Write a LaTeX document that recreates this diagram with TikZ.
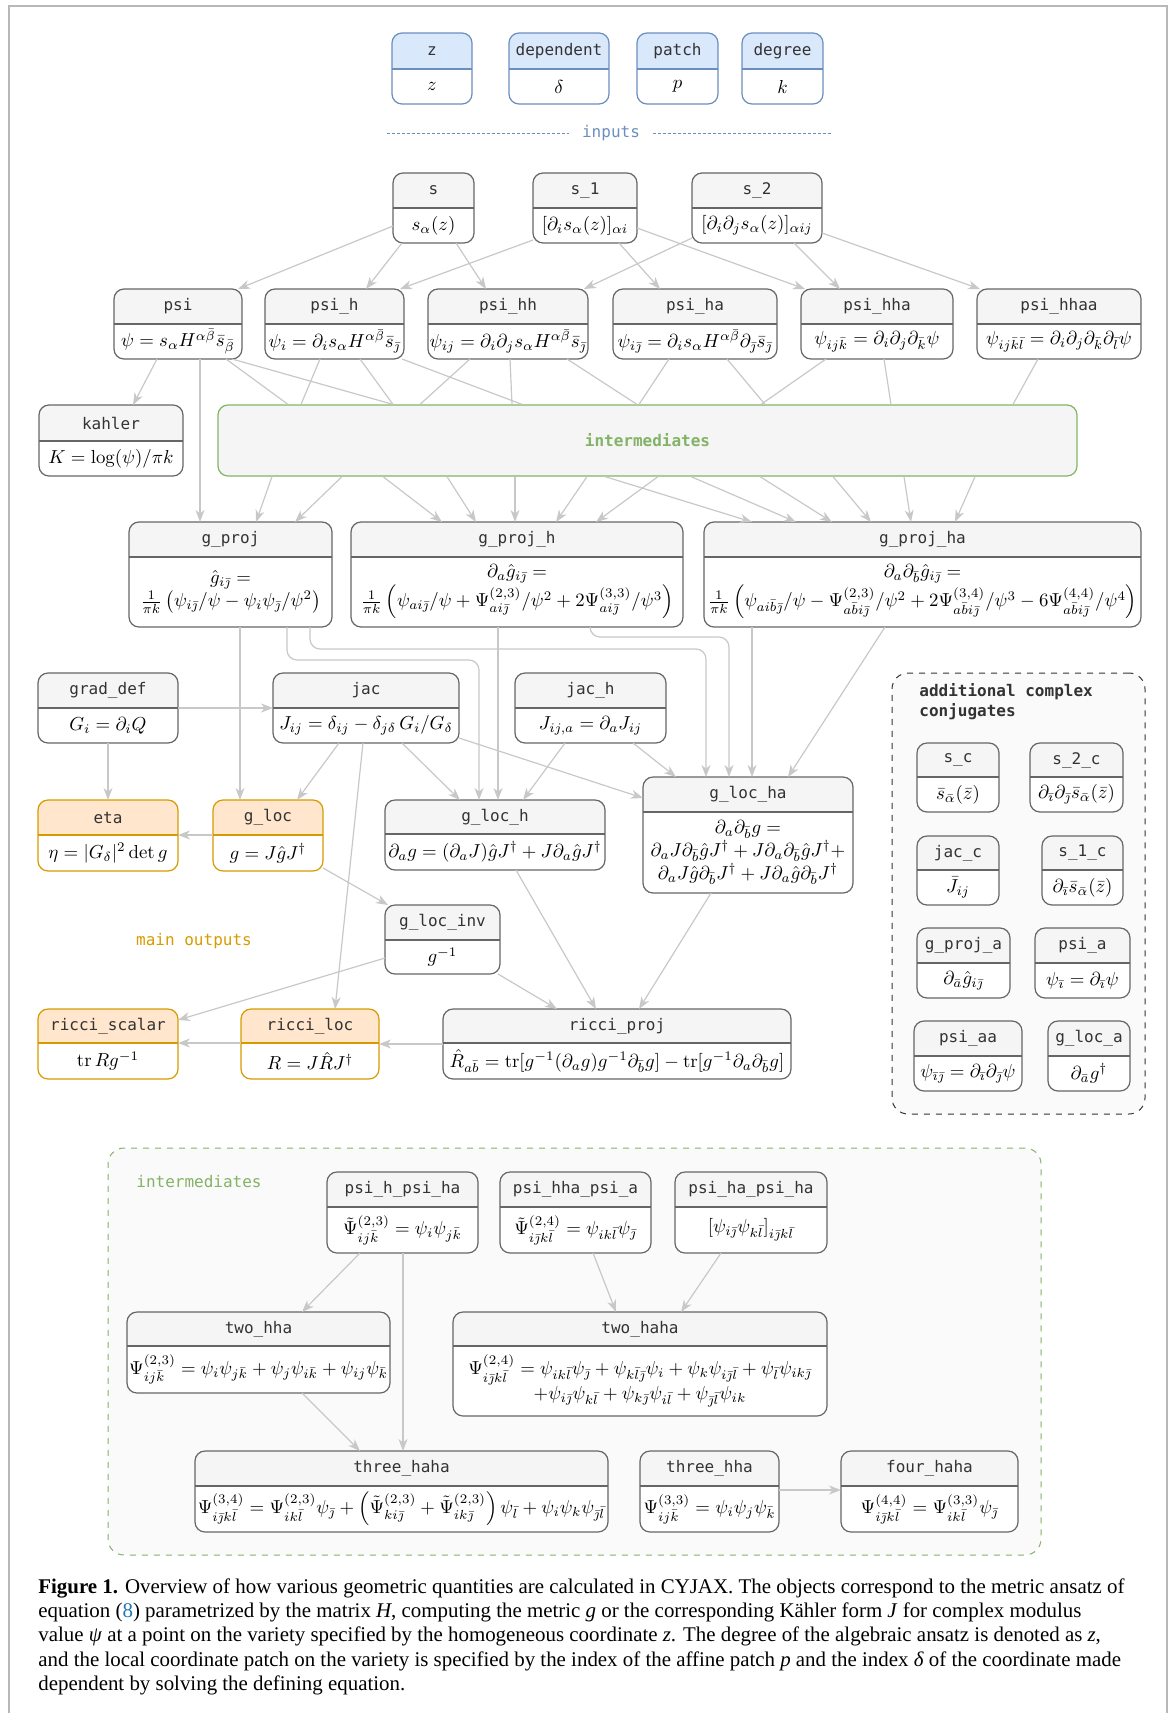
\documentclass[tikz,border=0pt]{standalone}
\usepackage{amsmath}
\usepackage{fontspec}
\newfontfamily\monofont{DejaVu Sans Mono}
\newfontfamily\capfont{Liberation Serif}
\usetikzlibrary{arrows.meta}

\definecolor{hdgray}{HTML}{F5F5F5}
\definecolor{frgray}{HTML}{666666}
\definecolor{hdblue}{HTML}{DAE8FC}
\definecolor{frblue}{HTML}{6C8EBF}
\definecolor{hdorange}{HTML}{FFE6CC}
\definecolor{frorange}{HTML}{D79B00}
\definecolor{lnk}{HTML}{C8C8C8}
\definecolor{grn}{HTML}{82B366}
\definecolor{txt}{HTML}{333333}
\definecolor{pagegray}{HTML}{B8B8B8}
\definecolor{capblue}{HTML}{1F77B4}

\tikzset{
  conn/.style={draw=lnk, line width=0.6pt, -{Stealth[length=6pt,width=4.5pt,inset=1.8pt]}},
  link/.style={draw=lnk, line width=0.6pt},
  boxtitle/.style={font=\monofont\fontsize{8}{10}\selectfont, text=txt, inner sep=0pt},
  boxbody/.style={font=\fontsize{10}{12.2}\selectfont, inner sep=0pt, align=center, scale=0.94, transform shape},
  gray head/.style={fill=hdgray},
  gray frame/.style={draw=frgray, line width=0.6pt},
  gray sep/.style={draw=frgray, line width=1.1pt},
  blue head/.style={fill=hdblue},
  blue frame/.style={draw=frblue, line width=0.6pt},
  blue sep/.style={draw=frblue, line width=1.1pt},
  orange head/.style={fill=hdorange},
  orange frame/.style={draw=frorange, line width=0.6pt},
  orange sep/.style={draw=frorange, line width=1.1pt},
  intbig/.style={draw=grn, fill=hdgray, line width=0.6pt, rounded corners=5pt,
    font=\monofont\bfseries\fontsize{8}{10}\selectfont, text=grn},
  intbox/.style={draw=grn, fill=white!98!black, dashed, line width=0.5pt, rounded corners=8pt},
  ccbox/.style={draw=black!80, fill=white!98!black, dashed, line width=0.5pt, rounded corners=8pt},
  note/.style={font=\monofont\fontsize{8}{10}\selectfont, inner sep=0pt},
  caption/.style={font=\capfont\fontsize{10.45}{12.15}\selectfont, inner sep=0pt, align=left}
}

% kind, name, left, top, right, bottom, separator, title, body
\newcommand{\qtybox}[9]{%
  \pgfmathsetmacro\qbw{(#5-#3)/2}%
  \pgfmathsetmacro\qbh{(#6-#4)/2}%
  \pgfmathsetmacro\qbx{(#3+#5)/2}%
  \pgfmathsetmacro\qby{(#4+#6)/2}%
  \pgfmathsetmacro\qbhy{(#4+#7)/2}%
  \pgfmathsetmacro\qbty{(#7+#6)/2}%
  \begin{scope}
    \clip[rounded corners=5pt] (#3,#4) rectangle (#5,#6);
    \fill[#1 head] (#3,#4) rectangle (#5,#7);
    \fill[white] (#3,#7) rectangle (#5,#6);
  \end{scope}
  \draw[#1 sep] (#3,#7) -- (#5,#7);
  \node[#1 frame, rounded corners=5pt, inner sep=0pt, outer sep=0pt,
    minimum width=\qbw pt, minimum height=\qbh pt] (#2) at (\qbx,\qby) {};
  \node[boxtitle] at (\qbx,\qbhy) {#8};
  \node[boxbody] at (\qbx,\qbty) {#9};
}

\begin{document}
\begin{tikzpicture}[x=0.5pt,y=-0.5pt]
\useasboundingbox (0,0) rectangle (1173,1713);
\draw[pagegray, line width=0.8pt] (9,1713) -- (9,6) -- (1167,6) -- (1167,1713);

%Behaelter
\node[intbig, minimum width=429.5pt, minimum height=35.5pt] (interm) at (647.5,440.5) {intermediates};
\node[ccbox, minimum width=126.5pt, minimum height=220.5pt] (conj) at (1018.5,893.5) {};
\node[intbox, minimum width=466.5pt, minimum height=203.5pt] (lower) at (574.5,1351.5) {};

%Eingaben
\qtybox{blue}{z}{392}{33}{472}{104}{69}{z}{$z$}
\qtybox{blue}{dependent}{509}{33}{609}{104}{69}{dependent}{$\delta$}
\qtybox{blue}{patch}{637}{33}{718}{104}{69}{patch}{$p$}
\qtybox{blue}{degree}{742}{33}{823}{104}{69}{degree}{$k$}
\draw[frblue, line width=0.4pt, dash pattern=on 1.5pt off 1pt] (387,133) -- (569,133);
\draw[frblue, line width=0.4pt, dash pattern=on 1.5pt off 1pt] (653,133) -- (831,133);
\node[note, text=frblue] (inputs) at (611,133) {inputs};

%Monome
\qtybox{gray}{s}{393}{173}{474}{243}{208}{s}{$s_\alpha(z)$}
\qtybox{gray}{s_1}{533}{173}{637}{243}{208}{s\_1}{$[\partial_i s_\alpha(z)]_{\alpha i}$}
\qtybox{gray}{s_2}{692}{173}{822}{243}{208}{s\_2}{$[\partial_i\partial_j s_\alpha(z)]_{\alpha ij}$}

%psi und Ableitungen
\qtybox{gray}{psi}{114}{289}{242}{359}{324}{psi}{$\psi = s_\alpha H^{\alpha\bar\beta}\bar s_{\bar\beta}$}
\qtybox{gray}{psi_h}{265}{289}{404}{359}{324}{psi\_h}{$\psi_i = \partial_i s_\alpha H^{\alpha\bar\beta}\bar s_{\bar\jmath}$}
\qtybox{gray}{psi_hh}{428}{289}{588}{359}{324}{psi\_hh}{$\psi_{ij} = \partial_i\partial_j s_\alpha H^{\alpha\bar\beta}\bar s_{\bar\jmath}$}
\qtybox{gray}{psi_ha}{613}{289}{777}{359}{324}{psi\_ha}{$\psi_{i\bar\jmath} = \partial_i s_\alpha H^{\alpha\bar\beta}\partial_{\bar\jmath}\bar s_{\bar\jmath}$}
\qtybox{gray}{psi_hha}{801}{289}{953}{359}{324}{psi\_hha}{$\psi_{ij\bar k} = \partial_i\partial_j\partial_{\bar k}\psi$}
\qtybox{gray}{psi_hhaa}{977}{289}{1141}{359}{324}{psi\_hhaa}{$\psi_{ij\bar k\bar l} = \partial_i\partial_j\partial_{\bar k}\partial_{\bar l}\psi$}

\qtybox{gray}{kahler}{39}{405}{183}{476}{441}{kahler}{$K = \log(\psi)/\pi k$}

%projektive Metrik
\qtybox{gray}{g_proj}{129}{522}{332}{627}{557}{g\_proj}{$\hat g_{i\bar\jmath} =$\\ $\frac{1}{\pi k}\left(\psi_{i\bar\jmath}/\psi - \psi_i\psi_{\bar\jmath}/\psi^2\right)$}
\qtybox{gray}{g_proj_h}{351}{522}{683}{627}{557}{g\_proj\_h}{$\partial_a\hat g_{i\bar\jmath} =$\\ $\frac{1}{\pi k}\left(\psi_{ai\bar\jmath}/\psi + \Psi^{(2,3)}_{ai\bar\jmath}/\psi^2 + 2\Psi^{(3,3)}_{ai\bar\jmath}/\psi^3\right)$}
\qtybox{gray}{g_proj_ha}{704}{522}{1141}{627}{557}{g\_proj\_ha}{$\partial_a\partial_{\bar b}\hat g_{i\bar\jmath} =$\\ $\frac{1}{\pi k}\left(\psi_{ai\bar b\bar\jmath}/\psi - \Psi^{(2,3)}_{a\bar bi\bar\jmath}/\psi^2 + 2\Psi^{(3,4)}_{a\bar bi\bar\jmath}/\psi^3 - 6\Psi^{(4,4)}_{a\bar bi\bar\jmath}/\psi^4\right)$}

%lokale Koordinaten
\qtybox{gray}{grad_def}{38}{673}{178}{743}{708}{grad\_def}{$G_i = \partial_i Q$}
\qtybox{gray}{jac}{273}{673}{459}{743}{708}{jac}{$J_{ij} = \delta_{ij} - \delta_{j\delta}\,G_i/G_\delta$}
\qtybox{gray}{jac_h}{515}{673}{666}{743}{708}{jac\_h}{$J_{ij,a} = \partial_a J_{ij}$}
\qtybox{orange}{eta}{38}{800}{178}{871}{835}{eta}{$\eta = |G_\delta|^2\det g$}
\qtybox{orange}{g_loc}{213}{800}{323}{871}{835}{g\_loc}{$g = J\hat gJ^\dagger$}
\qtybox{gray}{g_loc_h}{385}{800}{605}{870}{834}{g\_loc\_h}{$\partial_a g = (\partial_a J)\hat gJ^\dagger + J\partial_a\hat gJ^\dagger$}
\qtybox{gray}{g_loc_ha}{643}{777}{853}{893}{812}{g\_loc\_ha}{$\partial_a\partial_{\bar b}g =$\\ $\partial_aJ\partial_{\bar b}\hat gJ^\dagger + J\partial_a\partial_{\bar b}\hat gJ^\dagger +$\\ $\partial_aJ\hat g\partial_{\bar b}J^\dagger + J\partial_a\hat g\partial_{\bar b}J^\dagger$}
\qtybox{gray}{g_loc_inv}{385}{905}{500}{974}{940}{g\_loc\_inv}{$g^{-1}$}
\node[note, text=frorange] (outputs) at (194,941) {main outputs};
\qtybox{orange}{ricci_scalar}{38}{1009}{178}{1079}{1043}{ricci\_scalar}{$\operatorname{tr}Rg^{-1}$}
\qtybox{orange}{ricci_loc}{241}{1009}{379}{1079}{1043}{ricci\_loc}{$R = J\hat RJ^\dagger$}
\qtybox{gray}{ricci_proj}{443}{1009}{791}{1079}{1043}{ricci\_proj}{$\hat R_{a\bar b} = \operatorname{tr}[g^{-1}(\partial_a g)g^{-1}\partial_{\bar b}g] - \operatorname{tr}[g^{-1}\partial_a\partial_{\bar b}g]$}

%komplex konjugierte
\node[note, font=\monofont\bfseries\fontsize{8}{10}\selectfont, text=txt, align=left, anchor=west] (conjlabel) at (919,702) {additional complex\\conjugates};
\qtybox{gray}{s_c}{917}{743}{999}{812}{777}{s\_c}{$\bar s_{\bar\alpha}(\bar z)$}
\qtybox{gray}{s_2_c}{1030}{743}{1123}{812}{777}{s\_2\_c}{$\partial_{\bar\imath}\partial_{\bar\jmath}\bar s_{\bar\alpha}(\bar z)$}
\qtybox{gray}{jac_c}{917}{836}{999}{905}{870}{jac\_c}{$\bar J_{ij}$}
\qtybox{gray}{s_1_c}{1042}{836}{1123}{905}{870}{s\_1\_c}{$\partial_{\bar\imath}\bar s_{\bar\alpha}(\bar z)$}
\qtybox{gray}{g_proj_a}{917}{928}{1010}{998}{963}{g\_proj\_a}{$\partial_{\bar a}\hat g_{i\bar\jmath}$}
\qtybox{gray}{psi_a}{1035}{928}{1130}{998}{963}{psi\_a}{$\psi_{\bar\imath} = \partial_{\bar\imath}\psi$}
\qtybox{gray}{psi_aa}{914}{1021}{1022}{1091}{1056}{psi\_aa}{$\psi_{\bar\imath\bar\jmath} = \partial_{\bar\imath}\partial_{\bar\jmath}\psi$}
\qtybox{gray}{g_loc_a}{1048}{1021}{1130}{1091}{1056}{g\_loc\_a}{$\partial_{\bar a}g^\dagger$}

%Zwischenergebnisse
\node[note, text=grn, anchor=west] (lowerlabel) at (136,1182) {intermediates};
\qtybox{gray}{psi_h_psi_ha}{327}{1172}{478}{1253}{1207}{psi\_h\_psi\_ha}{$\tilde\Psi^{(2,3)}_{ij\bar k} = \psi_i\psi_{j\bar k}$}
\qtybox{gray}{psi_hha_psi_a}{500}{1172}{651}{1253}{1207}{psi\_hha\_psi\_a}{$\tilde\Psi^{(2,4)}_{i\bar\jmath k\bar l} = \psi_{ik\bar l}\psi_{\bar\jmath}$}
\qtybox{gray}{psi_ha_psi_ha}{675}{1172}{827}{1253}{1207}{psi\_ha\_psi\_ha}{$\left[\psi_{i\bar\jmath}\psi_{k\bar l}\right]_{i\bar\jmath k\bar l}$}
\qtybox{gray}{two_hha}{127}{1312}{390}{1393}{1346}{two\_hha}{$\Psi^{(2,3)}_{ij\bar k} = \psi_i\psi_{j\bar k} + \psi_j\psi_{i\bar k} + \psi_{ij}\psi_{\bar k}$}
\qtybox{gray}{two_haha}{453}{1312}{827}{1416}{1346}{two\_haha}{$\Psi^{(2,4)}_{i\bar\jmath k\bar l} = \psi_{ik\bar l}\psi_{\bar\jmath} + \psi_{k\bar l\bar\jmath}\psi_i + \psi_k\psi_{i\bar\jmath\bar l} + \psi_{\bar l}\psi_{ik\bar\jmath}$\\ $+\psi_{i\bar\jmath}\psi_{k\bar l} + \psi_{k\bar\jmath}\psi_{i\bar l} + \psi_{\bar\jmath\bar l}\psi_{ik}$}
\qtybox{gray}{three_haha}{195}{1451}{608}{1532}{1486}{three\_haha}{$\Psi^{(3,4)}_{i\bar\jmath k\bar l} = \Psi^{(2,3)}_{ik\bar l}\psi_{\bar\jmath} + \left(\tilde\Psi^{(2,3)}_{ki\bar\jmath} + \tilde\Psi^{(2,3)}_{ik\bar\jmath}\right)\psi_{\bar l} + \psi_i\psi_k\psi_{\bar\jmath\bar l}$}
\qtybox{gray}{three_hha}{640}{1451}{779}{1532}{1486}{three\_hha}{$\Psi^{(3,3)}_{ij\bar k} = \psi_i\psi_j\psi_{\bar k}$}
\qtybox{gray}{four_haha}{841}{1451}{1018}{1532}{1486}{four\_haha}{$\Psi^{(4,4)}_{i\bar\jmath k\bar l} = \Psi^{(3,3)}_{ik\bar l}\psi_{\bar\jmath}$}

%Verbindungen oben
\draw[conn] (s.west |- 0,226) -- (psi.north -| 238,0);
\draw[conn] (s.south -| 402,0) -- (psi_h.north -| 366,0);
\draw[conn] (s.south -| 456,0) -- (psi_hh.north -| 486,0);
\draw[conn] (s_1.west |- 0,240) -- (psi_h.north -| 400,0);
\draw[conn] (s_1.south -| 619,0) -- (psi_ha.north -| 660,0);
\draw[conn] (s_1.east |- 0,228) -- (psi_hha.north -| 805,0);
\draw[conn] (s_2.west |- 0,238) -- (psi_hh.north -| 584,0);
\draw[conn] (s_2.south -| 794,0) -- (psi_hha.north -| 840,0);
\draw[conn] (s_2.east |- 0,233) -- (psi_hhaa.north -| 980,0);

\draw[conn] (psi.south -| 157,0) -- (kahler.north -| 133,0);
\draw[conn] (psi.south -| 200,0) -- (g_proj.north -| 200,0);
\foreach \a/\xa/\xb in
{
psi/226/288, psi/232/393,
psi_h/320/301, psi_h/360/393, psi_h/402/522,
psi_hh/470/420, psi_hh/510/512, psi_hh/567/637,
psi_ha/669/639, psi_ha/727/765,
psi_hha/826/761, psi_hha/884/891,
psi_hhaa/1038/1013
}
{
	\draw[link] (\a.south -| \xa,0) -- (interm.north -| \xb,0);
}
\foreach \b/\xa/\xb in
{
g_proj/272/256, g_proj/342/295,
g_proj_h/383/442, g_proj_h/447/476, g_proj_h/515/515, g_proj_h/587/556, g_proj_h/658/596,
g_proj_ha/605/752, g_proj_ha/691/796, g_proj_ha/760/832, g_proj_ha/833/871, g_proj_ha/904/911, g_proj_ha/975/955
}
{
	\draw[conn] (interm.south -| \xa,0) -- (\b.north -| \xb,0);
}

%Verbindungen Mitte
\draw[conn] (g_proj.south -| 240,0) -- (g_loc.north -| 240,0);
\draw[conn, rounded corners=5pt] (g_proj.south -| 287,0) -- ++(0,33) -| (g_loc_h.north -| 479,0);
\draw[conn, rounded corners=5pt] (g_proj.south -| 310,0) -- ++(0,22) -| (g_loc_ha.north -| 706,0);
\draw[conn] (g_proj_h.south -| 498,0) -- (g_loc_h.north -| 498,0);
\draw[conn, rounded corners=5pt] (g_proj_h.south -| 590,0) -- ++(0,10) -| (g_loc_ha.north -| 729,0);
\draw[conn] (g_proj_ha.south -| 752,0) -- (g_loc_ha.north -| 752,0);
\draw[conn] (g_proj_ha.south -| 885,0) -- (g_loc_ha.north -| 788,0);

\draw[conn] (grad_def.east |- 0,708) -- (jac.west |- 0,708);
\draw[conn] (grad_def.south -| 108,0) -- (eta.north -| 108,0);
\draw[conn] (g_loc.west |- 0,835) -- (eta.east |- 0,835);
\draw[conn] (jac.south -| 339,0) -- (g_loc.north -| 297,0);
\draw[conn] (jac.south -| 363,0) -- (ricci_loc.north -| 335,0);
\draw[conn] (jac.south -| 402,0) -- (g_loc_h.north -| 460,0);
\draw[conn] (jac.east |- 0,738) -- (g_loc_ha.west |- 0,798);
\draw[conn] (jac_h.south -| 565,0) -- (g_loc_h.north -| 523,0);
\draw[conn] (jac_h.south -| 633,0) -- (g_loc_ha.north -| 676,0);
\draw[conn] (g_loc.east |- 0,868) -- (g_loc_inv.north -| 388,0);
\draw[conn] (g_loc_inv.west |- 0,958) -- (ricci_scalar.east |- 0,1020);
\draw[conn] (g_loc_inv.south -| 498,0) -- (ricci_proj.north -| 557,0);
\draw[conn] (g_loc_h.south -| 516,0) -- (ricci_proj.north -| 596,0);
\draw[conn] (g_loc_ha.south -| 711,0) -- (ricci_proj.north -| 639,0);
\draw[conn] (ricci_proj.west |- 0,1044) -- (ricci_loc.east |- 0,1044);
\draw[conn] (ricci_loc.west |- 0,1043) -- (ricci_scalar.east |- 0,1043);

%Verbindungen unten
\draw[conn] (psi_h_psi_ha.south -| 360,0) -- (two_hha.north -| 302,0);
\draw[conn] (psi_h_psi_ha.south -| 403,0) -- (three_haha.north -| 403,0);
\draw[conn] (psi_hha_psi_a.south -| 593,0) -- (two_haha.north -| 616,0);
\draw[conn] (psi_ha_psi_ha.south -| 721,0) -- (two_haha.north -| 681,0);
\draw[conn] (two_hha.south -| 302,0) -- (three_haha.north -| 360,0);
\draw[conn] (three_hha.east |- 0,1490) -- (four_haha.west |- 0,1490);

%Bildunterschrift
\node[caption, anchor=north west] (cap) at (38,1578) {\textbf{Figure 1.} Overview of how various geometric quantities are calculated in CYJAX. The objects correspond to the metric ansatz of\\
equation ({\color{capblue}8}) parametrized by the matrix \textit{H}, computing the metric \textit{g} or the corresponding Kähler form \textit{J} for complex modulus\\
value \textit{ψ} at a point on the variety specified by the homogeneous coordinate \textit{z}. The degree of the algebraic ansatz is denoted as \textit{z},\\
and the local coordinate patch on the variety is specified by the index of the affine patch \textit{p} and the index \textit{δ} of the coordinate made\\
dependent by solving the defining equation.};

\end{tikzpicture}
\end{document}
